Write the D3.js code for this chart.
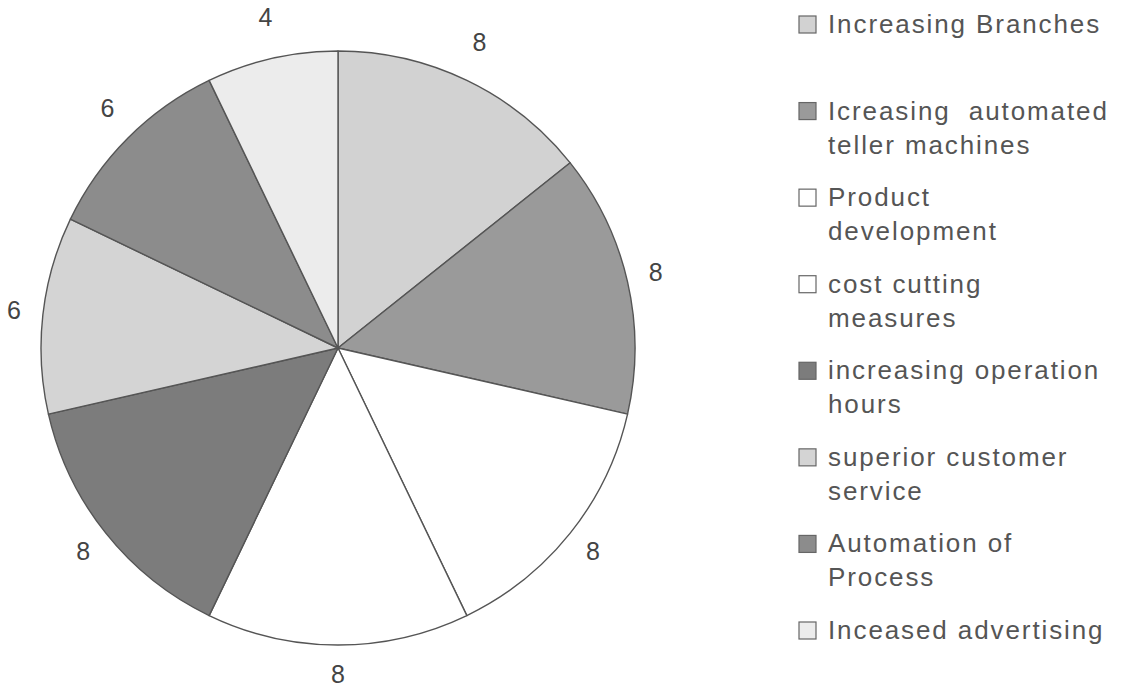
<!DOCTYPE html>
<html>
<head>
<meta charset="utf-8">
<script src="https://cdn.jsdelivr.net/npm/d3@7"></script>
<style>
  html, body { margin: 0; padding: 0; background: #ffffff; }
  svg { display: block; }
</style>
</head>
<body>
<svg id="chart" width="1126" height="693"></svg>
<script>
// Strategies and how many respondents chose each
const categories = [
  "Increasing Branches",
  "Icreasing  automated\nteller machines",
  "Product\ndevelopment",
  "cost cutting\nmeasures",
  "increasing operation\nhours",
  "superior customer\nservice",
  "Automation of\nProcess",
  "Inceased advertising"
];
const values = [8, 8, 8, 8, 8, 6, 6, 4];
const fills = ["#d2d2d2", "#9a9a9a", "#ffffff", "#ffffff", "#7c7c7c", "#d4d4d4", "#8c8c8c", "#ececec"];

const svg = d3.select("#chart");
const cx = 338, cy = 348, radius = 297, labelRadius = 326;

const pie = d3.pie().sort(null).value(d => d.value);
const arcs = pie(categories.map((c, i) => ({ name: c, value: values[i], fill: fills[i] })));
const arc = d3.arc().innerRadius(0).outerRadius(radius);
const labelArc = d3.arc().innerRadius(labelRadius).outerRadius(labelRadius);

const g = svg.append("g").attr("transform", `translate(${cx},${cy})`);

g.selectAll("path.slice")
  .data(arcs)
  .join("path")
  .attr("class", "slice")
  .attr("d", arc)
  .attr("fill", d => d.data.fill)
  .attr("stroke", "#555")
  .attr("stroke-width", 1.4)
  .attr("stroke-linejoin", "round");

// value labels just outside the rim; upper labels sit a little higher
g.selectAll("text.value")
  .data(arcs)
  .join("text")
  .attr("class", "value")
  .attr("transform", d => {
    const [x, y] = labelArc.centroid(d);
    const a = (d.startAngle + d.endAngle) / 2;
    return `translate(${x},${y - Math.max(0, Math.cos(a)) * 14})`;
  })
  .attr("text-anchor", "middle")
  .attr("dominant-baseline", "central")
  .attr("font-family", "Liberation Sans, Arial, sans-serif")
  .attr("font-size", 25)
  .attr("fill", "#444")
  .text(d => d.data.value);

// Legend
const legendY = d3.scalePoint().domain(categories).range([24, 630]);
const legend = svg.append("g").attr("transform", "translate(799,0)");

const item = legend.selectAll("g.item")
  .data(categories.map((c, i) => ({ name: c, fill: fills[i] })))
  .join("g")
  .attr("class", "item")
  .attr("transform", d => `translate(0,${legendY(d.name)})`);

item.append("rect")
  .attr("x", 0)
  .attr("y", -8)
  .attr("width", 17)
  .attr("height", 17)
  .attr("fill", d => d.fill)
  .attr("stroke", "#666")
  .attr("stroke-width", 1.2);

item.append("text")
  .attr("x", 29)
  .attr("y", 9)
  .attr("font-family", "Liberation Sans, Arial, sans-serif")
  .attr("font-size", 26)
  .attr("letter-spacing", 1.9)
  .attr("fill", "#555")
  .selectAll("tspan")
  .data(d => d.name.split("\n"))
  .join("tspan")
  .attr("x", 29)
  .attr("dy", (d, i) => i === 0 ? 0 : 34)
  .attr("xml:space", "preserve")
  .text(d => d);
</script>
</body>
</html>
